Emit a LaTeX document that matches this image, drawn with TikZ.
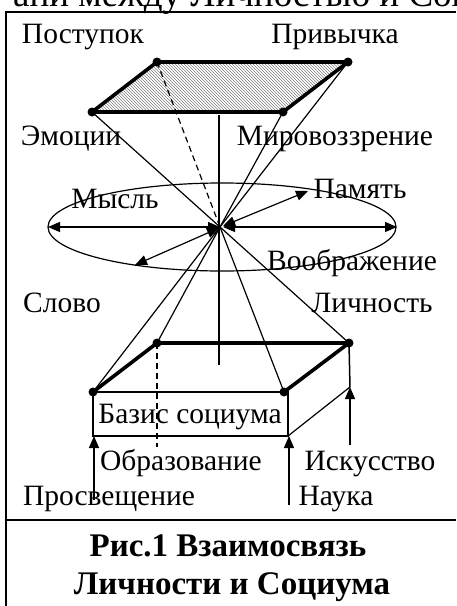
\documentclass[tikz,border=0pt]{standalone}
\usepackage{fontspec}
\setmainfont{Liberation Serif}
\usetikzlibrary{arrows.meta,patterns}
\begin{document}
\begin{tikzpicture}[x=1pt,y=-1pt,
  thinln/.style={line width=1.2pt},
  thickln/.style={line width=3.6pt,line cap=round,line join=round},
  frameln/.style={line width=2pt},
  dbl/.style={line width=1.2pt,{Triangle[length=12pt,width=10pt]}-{Triangle[length=12pt,width=10pt]}},
  uparr/.style={line width=1.4pt,-{Triangle[length=12pt,width=10pt]}},
  vtx/.style={circle,fill=black,inner sep=0pt,minimum size=9pt},
  lbl/.style={font=\fontsize{29.5}{34}\selectfont,inner sep=0pt,anchor=base},
  captxt/.style={font=\fontsize{33}{38}\selectfont\bfseries,inner sep=0pt,anchor=base}]
\useasboundingbox (0,0) rectangle (456,606);
\clip (0,0) rectangle (456,606);
% cut-off heading
\node[font=\fontsize{37}{42}\selectfont,inner sep=0pt,anchor=base west] (head) at (13,6) {ани между Личностью и Социумом};
% frame
\coordinate (f1) at (456,12);
\coordinate (f2) at (6,12);
\coordinate (f3) at (6,606);
\coordinate (f4) at (5,520);
\coordinate (f5) at (456,520);
\draw[frameln] (f1) -- (f2) -- (f3);
\draw[frameln] (f4) -- (f5);
% top face
\coordinate (tbl) at (157,62);
\coordinate (tbr) at (348,62);
\coordinate (tfr) at (283,112);
\coordinate (tfl) at (92,112);
\fill[pattern=north west lines,pattern color=gray] (tbl) -- (tbr) -- (tfr) -- (tfl) -- cycle;
% centre
\coordinate (C) at (220,227);
% bottom face
\coordinate (bbl) at (157,343);
\coordinate (bbr) at (349,343);
\coordinate (bfr) at (284,392);
\coordinate (bfl) at (93,392);
% ellipse
\draw[thinln] (222,227) ellipse [x radius=174, y radius=44];
% lines to centre
\draw[thinln] (tfl) -- (C);
\draw[thinln,dash pattern=on 6pt off 4pt] (tbl) -- (C);
\draw[thinln] (tfr) -- (C);
\draw[thinln] (tbr) -- (C);
\draw[thinln] (bfl) -- (C);
\draw[thinln] (bbl) -- (C);
\draw[thinln] (bfr) -- (C);
\draw[thinln] (bbr) -- (C);
\coordinate (vt) at (219,115);
\coordinate (vb) at (219,365);
\draw[thinln] (vt) -- (vb);
% double arrows
\coordinate (cl) at (220,227);
\coordinate (cr) at (223,227);
\coordinate (cu) at (223,226);
\coordinate (cd) at (219,228);
\coordinate (eL) at (48,227);
\coordinate (eR) at (397,227);
\coordinate (eU) at (308,191);
\coordinate (eD) at (135,265);
\draw[dbl] (cl) -- (eL);
\draw[dbl] (cr) -- (eR);
\draw[dbl] (cu) -- (eU);
\draw[dbl] (cd) -- (eD);
% top face outline
\draw[thickln] (tbl) -- (tbr) -- (tfr) -- (tfl) -- cycle;
\foreach \p in {tbl,tbr,tfr,tfl} \node[vtx] at (\p) {};
% box
\coordinate (r1) at (93,392);
\coordinate (r2) at (288,392);
\coordinate (r3) at (288,436);
\coordinate (r4) at (93,436);
\coordinate (rs) at (350,387);
\draw[line width=1.8pt] (r1) -- (r2) -- (r3) -- (r4) -- cycle;
\draw[thinln] (r3) -- (rs);
\draw[line width=1.5pt] (bbr) -- (rs);
\coordinate (dh) at (157,447);
\draw[thinln,dash pattern=on 6pt off 4pt] (bbl) -- (dh);
\draw[thickln] (bfl) -- (bbl) -- (bbr) -- (bfr);
\draw[line width=2.4pt] (bfl) -- (bfr);
\foreach \p in {bbl,bbr,bfr,bfl} \node[vtx] at (\p) {};
% arrows from below
\coordinate (a1s) at (94,500);
\coordinate (a1e) at (94,436);
\coordinate (a2s) at (289,505);
\coordinate (a2e) at (289,436);
\coordinate (a3s) at (350,445);
\draw[uparr] (a1s) -- (a1e);
\draw[uparr] (a2s) -- (a2e);
\draw[uparr] (a3s) -- (rs);
% labels
\node[lbl] (postupok) at (83,43) {Поступок};
\node[lbl] (privychka) at (335,43) {Привычка};
\node[lbl] (emocii) at (71,145) {Эмоции};
\node[lbl] (mirovozz) at (335,145) {Мировоззрение};
\node[lbl] (mysl) at (115,208) {Мысль};
\node[lbl] (pamyat) at (360,198) {Память};
\node[lbl] (voobr) at (352,270) {Воображение};
\node[lbl] (slovo) at (62,312) {Слово};
\node[lbl] (lichnost) at (372,312) {Личность};
\node[lbl] (bazis) at (190,423) {Базис социума};
\node[lbl] (obraz) at (181,470) {Образование};
\node[lbl] (iskus) at (370,470) {Искусство};
\node[lbl] (prosv) at (109,505) {Просвещение};
\node[lbl] (nauka) at (336,505) {Наука};
\node[captxt] (cap1) at (228,556) {Рис.1 Взаимосвязь};
\node[captxt] (cap2) at (232,594) {Личности и Социума};
\end{tikzpicture}
\end{document}
